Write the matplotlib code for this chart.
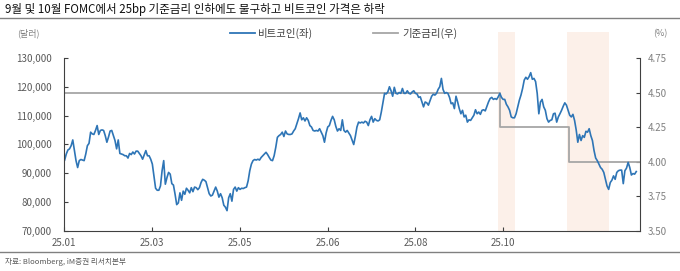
import matplotlib
matplotlib.use('Agg')
import matplotlib.pyplot as plt
import numpy as np
from matplotlib.lines import Line2D
from matplotlib.ticker import FuncFormatter

plt.rcParams['font.family'] = ['Noto Sans CJK KR', 'DejaVu Sans']

# %%
# 비트코인 가격 (달러), ~daily from 25.01
btc = [
    94500, 96600, 98000, 98400, 99500, 101500, 97800, 94300, 91900, 94300,
    94700, 94500, 94300, 96600, 99500, 100300, 104200, 103600, 103400, 104800,
    106500, 103400, 104800, 105000, 104800, 103000, 100700, 102500, 104600, 104800,
    103000, 101300, 98400, 101500, 96800, 96600, 96400, 96000, 96000, 95200,
    96800, 96400, 97300, 96600, 97600, 97600, 96800, 96000, 94800, 96300,
    97800, 96000, 96000, 94800, 93100, 89000, 84700, 84000, 84000, 85500,
    90800, 94300, 86100, 88400, 90200, 89600, 86300, 85800, 82600, 79000,
    79600, 83100, 80500, 83700, 82600, 84700, 84000, 83100, 84900, 83500,
    85100, 84900, 84200, 84900, 86700, 87800, 87500, 87000, 84900, 82800,
    82000, 82300, 83700, 85100, 83700, 81600, 82800, 81400, 78800, 78100,
    76900, 81400, 82800, 80200, 84300, 85100, 83700, 84900, 84300, 84700,
    84600, 84900, 85100, 87300, 90800, 93100, 94300, 94700, 94500, 94800,
    94500, 95400, 96000, 96600, 97200, 96400, 95400, 94500, 94300, 96000,
    98900, 102400, 103000, 103400, 104200, 102700, 104600, 103600, 103400, 103400,
    103600, 104600,
    105400, 107100, 108900, 110900, 108500, 109200, 108100, 109200, 108300, 106500,
    106000, 104800, 104600, 104800, 104600, 105400, 104200, 103000, 100700, 103900,
    106000, 106500, 108300, 109700, 108500, 106200, 104600, 105400, 104800, 108500,
    104800, 104200, 104800, 103900, 103000, 101500, 99900, 102700, 106000, 107700,
    107400, 107700, 107400, 108000, 107700, 106500, 108500, 109700, 107700, 108900,
    108300, 108100, 108500, 111200, 114400, 117700, 117500, 118200, 120000, 118600,
    116700, 119800, 117700, 117500, 118000, 117700, 119400, 117700, 117700, 118600,
    117700, 117500,
    118200, 118600, 117700, 117500, 116300, 116500, 114700, 113000, 114700, 114400,
    113600, 115100, 116700, 117400, 117100, 117700, 119100, 120000, 122900, 119100,
    117700, 118000, 117700, 116300, 114100, 114400, 112400, 116700, 114700, 112400,
    110600, 111800, 109500, 110100, 107700, 108500, 108300, 109200, 110100, 112000,
    110600, 111200, 110400, 111800, 112000, 111600, 113200, 114700, 115900, 116300,
    115600, 115900, 115600, 116500, 117700, 116300, 115600, 115600, 113900, 113000,
    111800, 109500, 109200, 109200, 110600, 113000, 115300, 117100, 119400, 122300,
    123300,
    122600, 123500, 124900, 122600, 122900, 121800, 117700, 110600, 114700, 115600,
    113000, 111800, 108900, 107700, 108300, 108500, 110600, 110800, 107700, 109500,
    110600, 111800, 113200, 114400, 113600, 111800, 110100, 109500, 110400, 108300,
    105000, 100700, 103400, 101300, 103000, 102400, 104500, 104200, 105400, 103000,
    101300, 97800, 95200, 94300, 93100, 91900, 91300, 90200, 87800, 85500,
    84300, 86700, 87500, 89000, 87800, 90200, 90800, 91000, 91000, 86300,
    90800, 91700, 93700, 91900, 89300, 89800, 89600, 90500,
]

# 기준금리 (%) - step changes at FOMC (index in btc series)
rate_x = [-0.4, 268, 310.5, 354.3]
rate_y = [4.50, 4.25, 4.00, 4.00]

# FOMC windows (shaded)
fomc_windows = [(267, 277.5), (309.2, 335)]

xtick_pos = [-0.4, 54, 108, 162, 216, 270]
xtick_labels = ['25.01', '25.03', '25.05', '25.06', '25.08', '25.10']

# %%
fig = plt.figure(figsize=(6.8, 2.71), dpi=100)
ax = fig.add_axes([64/680, 1-230.5/271, 576/680, 172.5/271])
ax2 = ax.twinx()
ax.set_zorder(ax2.get_zorder()+1)
ax.patch.set_visible(False)

x = np.arange(len(btc))
ax.plot(x, btc, color='#2E75B6', lw=1.2, solid_joinstyle='round')
ax2.step(rate_x, rate_y, where='post', color='#A6A6A6', lw=1.3)
for a, b in fomc_windows:
    ax2.axvspan(a, b, ymin=0, ymax=1.151, color='#FCF0E9', lw=0, clip_on=False, zorder=0)

ax.set_xlim(-0.4, 354.3)
ax.set_ylim(70000, 130000)
ax.set_yticks(range(70000, 130001, 10000))
ax.yaxis.set_major_formatter(FuncFormatter(lambda v, p: f'{v:,.0f}'))
ax2.set_ylim(3.5, 4.75)
ax2.set_yticks([3.5, 3.75, 4.0, 4.25, 4.5, 4.75])
ax2.yaxis.set_major_formatter(FuncFormatter(lambda v, p: f'{v:.2f}'))
ax.set_xticks(xtick_pos)
ax.set_xticklabels(xtick_labels)

spc = '#404040'
for s in ['top', 'right']:
    ax.spines[s].set_visible(False)
for s in ['top', 'left', 'bottom']:
    ax2.spines[s].set_visible(False)
for s in ['left', 'bottom']:
    ax.spines[s].set_color(spc)
    ax.spines[s].set_linewidth(0.8)
ax2.spines['right'].set_color(spc)
ax2.spines['right'].set_linewidth(0.8)

ax.tick_params(axis='y', direction='in', length=3, width=0.8, color=spc, pad=8.6, labelsize=7, labelcolor='#595959')
ax.tick_params(axis='x', direction='in', length=3, width=0.8, color=spc, pad=5.5, labelsize=7, labelcolor='#595959')
ax2.tick_params(axis='y', direction='in', length=3, width=0.8, color=spc, pad=5.5, labelsize=7, labelcolor='#808080')

# title, rules, source
fig.text(5/680, 1-10/271, '9월 및 10월 FOMC에서 25bp 기준금리 인하에도 불구하고 비트코인 가격은 하락',
         fontsize=8.3, color='#111111', va='center', ha='left')
fig.add_artist(Line2D([0, 1], [1-18/271]*2, transform=fig.transFigure, color='#808080', lw=1))
fig.add_artist(Line2D([0, 1], [1-252/271]*2, transform=fig.transFigure, color='#808080', lw=1))
fig.text(5/680, 1-262/271, '자료: Bloomberg, iM증권 리서치본부', fontsize=5.5, color='#595959', va='center', ha='left')

# units
fig.text(17/680, 1-33/271, '(달러)', fontsize=6.5, color='#808080', va='center', ha='left')
fig.text(653/680, 1-34/271, '(%)', fontsize=6.5, color='#808080', va='center', ha='left')

# legend
fig.add_artist(Line2D([230/680, 255/680], [1-33/271]*2, transform=fig.transFigure, color='#2E75B6', lw=1.3))
fig.text(258/680, 1-33/271, '비트코인(좌)', fontsize=7.5, color='#404040', va='center', ha='left')
fig.add_artist(Line2D([373/680, 398/680], [1-33/271]*2, transform=fig.transFigure, color='#A6A6A6', lw=1.3))
fig.text(402/680, 1-33/271, '기준금리(우)', fontsize=7.5, color='#404040', va='center', ha='left')

fig.savefig('out.png', dpi=100)
